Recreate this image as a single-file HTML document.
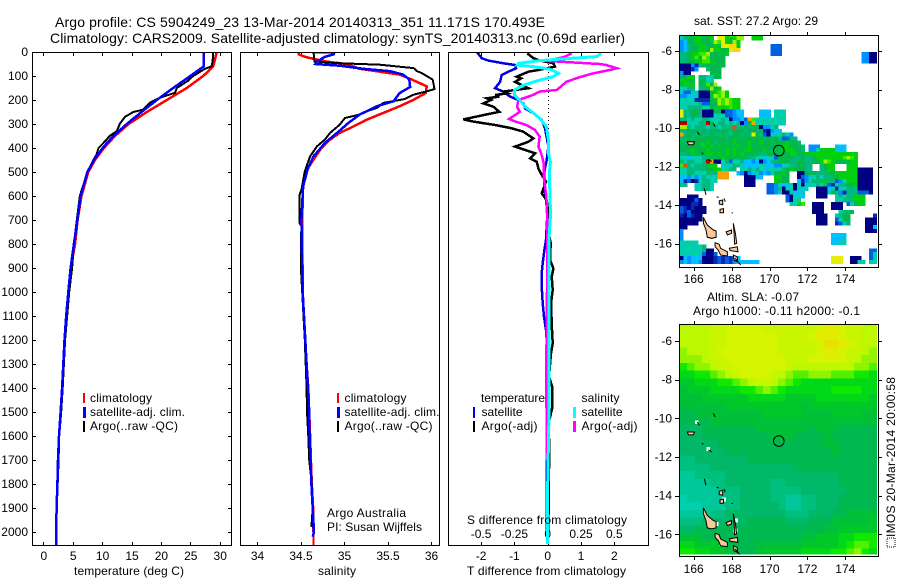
<!DOCTYPE html>
<html>
<head>
<meta charset="utf-8">
<title>Argo profile</title>
<style>
html,body{margin:0;padding:0;background:#fff;}
svg{display:block;font-family:"Liberation Sans",sans-serif;font-size:12px;fill:#000;}
text{fill:#000;stroke:none;}
.title{font-size:14px;}
.mark{fill:none;shape-rendering:crispEdges;stroke-linejoin:miter;}
.ax{shape-rendering:crispEdges;}
</style>
</head>
<body>
<svg id="fig" xmlns="http://www.w3.org/2000/svg" width="900" height="580" viewBox="0 0 900 580">
  <defs>
    <clipPath id="clip-t"><rect x="33" y="53" width="198" height="492"/></clipPath>
    <clipPath id="clip-s"><rect x="241" y="53" width="198" height="492"/></clipPath>
    <clipPath id="clip-d"><rect x="449" y="53" width="199" height="492"/></clipPath>
    <clipPath id="clip-m1"><rect x="679.5" y="35" width="198" height="232"/></clipPath>
    <clipPath id="clip-m2"><rect x="679.5" y="324.5" width="198" height="230"/></clipPath>
  </defs>

  <text class="title" x="55" y="27" textLength="490" lengthAdjust="spacing">Argo profile: CS 5904249_23 13-Mar-2014 20140313_351 11.171S 170.493E</text>
  <text class="title" x="50" y="43" textLength="575" lengthAdjust="spacing">Climatology: CARS2009. Satellite-adjusted climatology: synTS_20140313.nc (0.69d earlier)</text>

  <g id="heat1" clip-path="url(#clip-m1)" shape-rendering="crispEdges"></g>
  <g id="heat2" clip-path="url(#clip-m2)" shape-rendering="crispEdges"></g>
  <g id="land1" clip-path="url(#clip-m1)"></g>
  <g id="land2" clip-path="url(#clip-m2)"></g>
  <g id="axes"></g>
  <g id="series"></g>

  <text x="74" y="575" textLength="110">temperature (deg C)</text>
  <text x="318" y="575" textLength="38">salinity</text>
  <text x="467" y="575" textLength="159">T difference from climatology</text>
  <text x="467" y="524" textLength="160">S difference from climatology</text>

  <g>
    <rect x="83" y="393" width="2" height="10" fill="#ff0000"/>
    <rect x="83" y="407" width="3" height="11" fill="#0000ff"/>
    <rect x="83" y="421" width="2" height="11" fill="#000"/>
    <text x="90" y="402" textLength="62">climatology</text>
    <text x="90" y="416" textLength="95">satellite-adj. clim.</text>
    <text x="90" y="430" textLength="88">Argo(..raw -QC)</text>
  </g>
  <g>
    <rect x="337" y="393" width="2" height="10" fill="#ff0000"/>
    <rect x="337" y="407" width="3" height="11" fill="#0000ff"/>
    <rect x="337" y="421" width="2" height="11" fill="#000"/>
    <text x="344.5" y="402" textLength="62">climatology</text>
    <text x="344.5" y="416" textLength="95">satellite-adj. clim.</text>
    <text x="344.5" y="430" textLength="88">Argo(..raw -QC)</text>
    <text x="327" y="517" textLength="79">Argo Australia</text>
    <text x="327" y="531" textLength="95">PI: Susan Wijffels</text>
  </g>
  <g>
    <text x="481" y="402" textLength="64">temperature</text>
    <rect x="473" y="407" width="2" height="11" fill="#0000ff"/>
    <rect x="473" y="421" width="2" height="11" fill="#000"/>
    <text x="481.5" y="416" textLength="41">satellite</text>
    <text x="481.5" y="430" textLength="56">Argo(-adj)</text>
    <text x="581.5" y="402" textLength="38">salinity</text>
    <rect x="573" y="407" width="3" height="11" fill="#00ffff"/>
    <rect x="573" y="421" width="3" height="11" fill="#ff00ff"/>
    <text x="581.5" y="416" textLength="41">satellite</text>
    <text x="581.5" y="430" textLength="56">Argo(-adj)</text>
  </g>

  <text x="694" y="25" textLength="124">sat. SST: 27.2 Argo: 29</text>
  <text x="707" y="301" textLength="92">Altim. SLA: -0.07</text>
  <text x="693" y="315" textLength="167">Argo h1000: -0.11 h2000: -0.1</text>

  <rect x="887" y="538" width="8" height="9" fill="none" stroke="#000" stroke-width="1" stroke-dasharray="1 1" shape-rendering="crispEdges"/>
  <text transform="translate(895,537) rotate(-90)" x="0" y="0" textLength="160">IMOS 20-Mar-2014 20:00:58</text>
</svg>

<script>
// ---- chart data ----
const depthTicks = [0,100,200,300,400,500,600,700,800,900,1000,1100,1200,1300,1400,1500,1600,1700,1800,1900,2000];
const tempTicks = [0,5,10,15,20,25,30];
const salTicks = [34,34.5,35,35.5,36];
const salTickLabels = ['34','34.5','35','35.5','36'];
const dTempTicks = [-2,-1,0,1,2];
const dSalTicks = [-0.5,-0.25,0,0.25,0.5];
const dSalTickLabels = ['-0.5','-0.25','0','0.25','0.5'];
const lonTicks = [166,168,170,172,174];
const latTicks = [-6,-8,-10,-12,-14,-16];

const climDepth = [0,60,100,150,200,250,300,350,400,450,500,600,700,800,900,1000,1100,1200,1300,1400,1500,1600,1700,1800,1900,2000,2054];
const tempClim = [29.5,28.9,27.2,24.4,21,17.6,14.5,12.2,10.3,8.8,7.66,6.5,5.84,5.4,4.65,4.25,3.9,3.6,3.4,3.2,2.95,2.67,2.5,2.4,2.27,2.2,2.2];
const tempSat = [27.3,27.3,25,22.1,19.3,16.7,14.2,11.9,10.1,8.6,7.5,6.35,5.8,5.2,4.65,4.25,3.9,3.6,3.4,3.2,2.95,2.67,2.5,2.4,2.27,2.2,2.2];

const tempArgoDepth = [0,40,60,70,100,120,150,170,190,210,240,250,270,300,330,350,380,400,430,450,500,600,700,800,900,1000,1200,1400,1500,1600,1700,1900,2000];
const tempArgo = [28.9,28.8,28.6,27.5,25.5,24.6,22.7,22.4,19.9,18.2,17,15.3,13.9,13,12.5,11.3,10.2,9.4,9,8.5,7.5,6.2,5.7,5.2,4.9,4.4,3.7,3.3,3.05,2.7,2.6,2.3,2.2];

const salClimDepth = [0,10,20,30,40,50,70,94,115,143,171,199,226,254,282,310,337,365,400,449,504,560,700,1000,1100,1200,1300,1400,1500,1600,1700,1800,1900,2000,2054];
const salClim = [34.475,34.48,34.55,34.67,34.8,35.03,35.18,35.64,35.78,35.95,35.94,35.8,35.64,35.45,35.26,35.11,34.95,34.84,34.74,34.65,34.55,34.53,34.52,34.525,34.54,34.555,34.57,34.59,34.6,34.61,34.62,34.63,34.645,34.65,34.65];

const salSatDepth = [0,2,10,20,40,50,57,70,80,94,115,146,171,205,226,261,296,337,379,435,490,560,700,1000,1100,1200,1300,1400,1500,1600,1700,1800,1900,2000,2020];
const salSat = [34.65,34.89,34.88,34.78,34.69,34.67,34.95,35.22,35.53,35.68,35.75,35.76,35.64,35.57,35.38,35.18,35.05,34.92,34.78,34.65,34.58,34.53,34.51,34.525,34.54,34.555,34.57,34.585,34.6,34.605,34.615,34.625,34.64,34.655,34.64];

const salArgoDepth = [0,39,46,53,67,80,87,115,154,160,178,196,212,233,247,261,275,303,337,365,393,435,497,574,594,712,726,800,900,1000,1200,1400,1500,1600,1700,1800,1900,1980];
const salArgo = [34.65,34.66,34.88,35.41,35.8,35.84,35.89,36.02,36.04,35.99,35.8,35.7,35.45,35.38,35.26,35.18,35.01,34.95,34.84,34.78,34.69,34.61,34.55,34.51,34.49,34.49,34.51,34.505,34.505,34.52,34.55,34.57,34.575,34.59,34.6,34.63,34.64,34.625];

const dTempSatDepth = [0,26,36,47,54,68,82,96,124,151,165,186,200,214,235,256,283,318,394,450,505,561,617,672,783,825,880,922,978,1047,1103,1158,1200,1500,1800,2000];
const dTempSat = [-2.13,-1.98,-1.78,-1.33,-0.98,-0.95,-1.18,-1.38,-1.43,-1.58,-1.33,-1.13,-0.88,-0.73,-0.68,-0.43,-0.18,-0.08,0.02,-0.03,-0.11,-0.11,-0.05,-0.01,-0.05,-0.1,-0.15,-0.18,-0.18,-0.15,-0.11,-0.05,-0.03,-0.03,-0.03,-0.02];

const dTempArgoDepth = [6,26,36,47,61,75,82,103,110,124,138,151,165,172,179,186,193,200,214,228,249,263,281,290,304,318,332,360,374,394,406,422,443,457,485,512,540,589,617,672,769,797,866,902,936,992,1047,1158,1214,1256,1353,1388,1400,1480,1550,1650,1800,2000];
const dTempArgo = [-0.61,-0.43,-0.23,0.17,0.22,-0.28,-0.58,-0.93,-0.8,-0.98,-0.78,-0.58,-1.33,-1.2,-1.58,-1.45,-1.83,-1.7,-1.93,-1.63,-1.45,-1.93,-2.53,-2.23,-1.58,-1.08,-0.73,-0.43,-0.58,-0.98,-0.73,-0.38,-0.53,-0.33,-0.28,-0.18,-0.05,-0.18,-0.03,0.02,0.05,0.09,0.07,0.17,0.12,0.15,0.1,0.13,0.15,0.1,0.04,0.12,0.14,0.14,0.02,0.05,0.03,0.02];

const dSalSatDepth = [6,19,26,36,47,54,61,72,89,103,117,138,158,179,200,228,249,276,311,367,422,457,505,617,672,789,1500,1800,2050];
const dSalSat = [0.4,0.37,0.19,-0.06,-0.22,-0.23,-0.11,0.02,0.08,0.04,-0.06,-0.18,-0.25,-0.25,-0.21,-0.17,-0.12,-0.06,-0.01,0.005,0.005,0.02,0.012,0.018,0.022,0.008,0.01,0,0];

const dSalArgoDepth = [6,19,31,36,50,54,68,78,89,105,124,158,165,179,200,228,249,279,290,304,325,353,394,429,464,519,603,672,1000,1400,1500,1700];
const dSalArgo = [0.18,0.13,0.05,-0.045,0.39,0.44,0.52,0.44,0.34,0.24,0.14,0.07,-0.06,-0.11,-0.22,-0.23,-0.21,-0.29,-0.24,-0.16,-0.095,-0.06,-0.07,-0.045,-0.03,-0.03,-0.01,-0.005,-0.005,-0.012,-0.008,-0.008];

const argoLon = 170.493;
const argoLat = -11.171;

// SST map cells: each character is a colour level, "." is no data, "(n)" is a run of n no-data cells
const sstPalette = ['#000080','#0a28b4','#0060e0','#0090ff','#00c0ff','#00cfae','#00b97c','#00b84c','#00d010','#30e800','#a0f000','#e4f000','#f8d800','#f8a000','#e05010','#b00000'];
const sstRows = [
"567788778.bb8a9a9(2)888",
"567788778.bb878aa(2)888",
"347788777a9b87a8",
"34677887787bbcc8(8)222",
"34677887a8877bcc(8)222",
"6678899a77778(11)222(21)3300",
"667897a97777(36)3300",
"667788998777(36)3300",
"000316777777",
"00013(2)6777",
"300(5)777",
"7788.665577",
"8877.7755",
"7888.7797a",
"5566.667a78",
"52255000789a8",
"334450007a9a8",
"5555111178a9a988",
"5555562277a9a988",
"5566665577888988",
"b6677600077022344(4)444.555",
"b6677600055522344(4)444.555",
"665655665556503342d955555555",
"ff55566f75665656037d55555555",
"aa656665665666e66767703356",
"667776767777767776776710344",
"d676676676676677676b7620455653",
"6776777777776777777777677762266",
"76767778767777877787787777778776",
"777777878787777877877777777887776.333(4)444",
"777877787777878778877787777888776.3358888444",
"66787778878787878777766777777887788888888888888",
"55455566777877777766554552777766766788888889a98",
"6566556fd00562556443403466777667766778a98777788",
"9e65666788.5556654444554433556677" + "66(2)6788(3)888",
"556666677885566." + "55656545555" + "678777" + "66(2)6788(3)8880000",
"5566555666ddd(2)4303453435778" + "7(2)007676" + "6677" + "8888880000",
"4435346555ddd(4)00044(3)8877(2)0235" + "565667788888" + "0000",
"4120156655(7)000(5)8777(2)413566" + "78" + "66" + "2" + "3" + "5" + "88" + "8" + "0000",
"66(2)55665(8)000(3)2235445050" + "5" + "55656" + "21" + "56677" + "8" + "0000",
"(4)55665(14)223605505" + "45(2)000" + "45" + "1" + "5" + "56" + "66" + "0000",
"(23)2235005445(3)0005763166" + "62220",
"(2)000(23)20554(3)000(2)565668" + "88",
"000020(22)2055(9)556668" + "88",
"000110(23)5589(2)000(2)000.25788",
"2101000(28)000(2)000",
"2120000(28)000(4)5667",
"102100(30)000(2)5677(6)1",
"000000(30)000(2)2577(4)000",
"00000(31)000(2)1256(4)000",
"00(47)004",
"3(48)000",
"3(39)4444",
"3(39)4445",
"55555(35)4455",
"5555556",
"5555556" + "00(41)22",
"5555552" + "002(40)25",
"043444000" + "1212134(24)bbb(2)000(2)25",
"343443000" + "12121344444" + "4(19)bbb(2)0055.55"
];

// Altimetry map cells: same idea with coarser cells
const slaPalette = ['#00d0b0','#00c89a','#00c080','#00b868','#00b850','#00c038','#00c828','#00d818','#10e800','#50f000','#90f400','#bcf800','#c8f600','#d4f400','#e0ec00','#e8e000'];
const slaRows = [
"bbbbccdddddcccccccdeedccbb",
"bbbbccdddddddccccdeeedccbb",
"bbbbccdddddddcccccdffedcbb",
"abbbcddddddddcccccdeedccba",
"aaabccddddddddcccdddddcbaa",
"89aabccdddddddcbbbbbbbbaa9",
"77889abcddddcba99aaa999887",
"66777889abccba987777777777",
"56667777889a98777777888877",
"55566666677777666677777776",
"55555566666666665666666666",
"44555555555666665555666655",
"44445555555555555555555555",
"33344444445555555455544444",
"33344444444455544445444444",
"33333444444444444445544444",
"33333344444444444444544444",
"22333333344444444444444444",
"22223333333333344444444444",
"11222233333333333333344444",
"11112233333322333333344444",
"11111222333322223333334444",
"01111122333322112233344444",
"00011122333332112233344444",
"11112233333333222333445555",
"22233333344444333444555556",
"33444444444444444445566666",
"55544444444444445566677888",
"77666544445555556666678998",
"88776654445666667777889a87"
];

// Coast outlines in degrees
const islandPolys = [
[[166.51,-14.63],[166.72,-15.03],[167.04,-15.29],[167.18,-15.34],[167.18,-15.67],[166.95,-15.72],[166.72,-15.67],[166.65,-15.29],[166.51,-14.94]],
[[167.13,-15.95],[167.34,-16.02],[167.42,-16.24],[167.78,-16.42],[167.78,-16.64],[167.42,-16.59],[167.3,-16.33],[167.13,-16.16]],
[[167.71,-15.39],[168,-15.29],[168,-15.46],[167.78,-15.55]],
[[168.09,-14.94],[168.2,-15.46],[168.27,-15.98],[168.16,-16.02],[168.13,-15.46]],
[[167.88,-16.24],[168.3,-16.16],[168.34,-16.42],[167.92,-16.36]],
[[168.09,-16.59],[168.3,-16.68],[168.3,-16.93],[168.13,-16.85]],
[[167.35,-13.77],[167.53,-13.73],[167.53,-13.98],[167.35,-13.94]],
[[167.39,-14.22],[167.57,-14.18],[167.57,-14.39],[167.39,-14.39]],
[[165.67,-10.71],[166.04,-10.71],[165.98,-10.86],[165.72,-10.86]]
];
const reefLines = [
[[166.19,-10.19],[166.3,-10.36]],
[[167.04,-9.75],[167.13,-9.93]],
[[166.42,-11.28],[166.51,-11.35]],
[[166.77,-11.62],[166.95,-11.74]],
[[166.56,-13.13],[166.65,-13.47]],
[[167.21,-13.56],[167.32,-13.61]],
[[167.6,-13.65],[167.67,-13.82]],
[[168,-14.39],[168.07,-14.41]],
[[168.18,-16.76],[168.48,-17.1]]
];
const slaGaps = [[166.16,-10.2],[166.77,-11.59],[167.44,-13.82],[167.6,-14.2],[167.21,-15.46],[168.23,-15.29],[168.2,-15.81],[167.46,-16.5]];

// ---- axis functions ----
function yDepth(d){ return 52 + d * 0.24; }
function xTemp(v){ return 43.3 + v * 5.88; }
function xSal(v){ return 257 + (v - 34) * 87; }
function xDT(v){ return 547.7 + v * 33.3; }
function xDS(v){ return 547.7 + v * 133.2; }
function lonX(v){ return 693.7 + (v - 166) * 18.95; }
function latY1(v){ return 51 + (-6 - v) * 19.27; }
function latY2(v){ return 341 + (-6 - v) * 19.33; }

const NS = 'http://www.w3.org/2000/svg';
function make(parent, tag, attrs, txt){
  const el = document.createElementNS(NS, tag);
  for (const k in attrs) el.setAttribute(k, attrs[k]);
  if (txt !== undefined) el.textContent = txt;
  parent.appendChild(el);
  return el;
}
const axes = document.getElementById('axes');
const seriesG = document.getElementById('series');
const tickColor = '#000';

function hline(x1,x2,y){
  const el = make(axes,'line',{x1:x1,x2:x2,y1:Math.round(y)+0.5,y2:Math.round(y)+0.5,stroke:tickColor,'stroke-width':1,class:'ax'});
  
  
}
function vline(x,y1,y2){
  const el = make(axes,'line',{x1:Math.round(x)+0.5,x2:Math.round(x)+0.5,y1:y1,y2:y2,stroke:tickColor,'stroke-width':1,class:'ax'});
  
  
}
function label(x,y,str,anchor,name){
  const el = make(axes,'text',{x:x,y:y,'text-anchor':anchor},str);
  
  
}
function frame(x,y,w,h,name){
  const el = make(axes,'rect',{x:x+0.5,y:y+0.5,width:w,height:h,fill:'none',stroke:'#000','stroke-width':1,class:'ax'});
  
  
}

// Profile panels
const panelTop = 52, panelBottom = 545;
frame(32,panelTop,199,panelBottom-panelTop,'temperature-panel-frame');
frame(240,panelTop,199,panelBottom-panelTop,'salinity-panel-frame');
frame(448,panelTop,200,panelBottom-panelTop,'difference-panel-frame');

depthTicks.forEach(function(d){
  const y = yDepth(d);
  hline(33,36,y);
  hline(228,231,y);
  label(28,y+4,String(d),'end','depth-tick-label');
});
tempTicks.forEach(function(v){
  const x = xTemp(v);
  vline(x,panelTop+1,panelTop+4);
  vline(x,panelBottom-3,panelBottom);
  label(x+0.5,560,String(v),'middle','temperature-tick-label');
});
salTicks.forEach(function(v,i){
  const x = xSal(v);
  vline(x,panelTop+1,panelTop+4);
  vline(x,panelBottom-3,panelBottom);
  label(x+0.5,560,salTickLabels[i],'middle','salinity-tick-label');
});
dTempTicks.forEach(function(v){
  const x = xDT(v);
  vline(x,panelTop+1,panelTop+4);
  vline(x,panelBottom-3,panelBottom);
  label(x,560,String(v),'middle','t-difference-tick-label');
});
dSalTicks.forEach(function(v,i){
  label(xDS(v),538,dSalTickLabels[i],'middle','s-difference-tick-label');
});

// Zero line in the difference panel
const zeroLine = make(seriesG,'line',{x1:Math.round(xDT(0))+0.5,x2:Math.round(xDT(0))+0.5,y1:yDepth(0),y2:yDepth(400),stroke:'#000','stroke-width':1,'stroke-dasharray':'1 3',class:'ax'});



function drawSeries(depths, values, xFn, color, clip, name, width){
  const pts = depths.map(function(d,i){ return xFn(values[i]).toFixed(1) + ',' + yDepth(d).toFixed(1); }).join(' ');
  const el = make(seriesG,'polyline',{points:pts,stroke:color,'stroke-width':width,class:'mark','clip-path':'url(#'+clip+')'});
  
  
}
drawSeries(climDepth,tempClim,xTemp,'#ff0000','clip-t','temperature-climatology-line',2.5);
drawSeries(tempArgoDepth,tempArgo,xTemp,'#000000','clip-t','temperature-argo-line',2);
drawSeries(climDepth,tempSat,xTemp,'#0000ff','clip-t','temperature-satellite-line',2.5);

drawSeries(salClimDepth,salClim,xSal,'#ff0000','clip-s','salinity-climatology-line',2.5);
drawSeries(salArgoDepth,salArgo,xSal,'#000000','clip-s','salinity-argo-line',2);
drawSeries(salSatDepth,salSat,xSal,'#0000ff','clip-s','salinity-satellite-line',2.5);

drawSeries(dTempSatDepth,dTempSat,xDT,'#0000e0','clip-d','t-difference-satellite-line',2.5);
drawSeries(dTempArgoDepth,dTempArgo,xDT,'#000000','clip-d','t-difference-argo-line',2.5);
drawSeries(dSalArgoDepth,dSalArgo,xDS,'#ff00ff','clip-d','s-difference-argo-line',2.5);
drawSeries(dSalSatDepth,dSalSat,xDS,'#00ffff','clip-d','s-difference-satellite-line',3);

// Heatmaps
function expand(row){
  return row.replace(/\((\d+)\)/g,function(m,n){ return '.'.repeat(+n); });
}
const heat1 = document.getElementById('heat1');
const cellLon = 0.2, cellLat = 0.2, lon0 = 165.25, lat0 = -5.04;
sstRows.forEach(function(raw,r){
  const row = expand(raw);
  for (let c = 0; c < row.length && c < 52; c++){
    if (row[c] === '.') continue;
    const level = parseInt(row[c],16);
    const lon = lon0 + c * cellLon, lat = lat0 - r * cellLat;
    const rect = make(heat1,'rect',{x:lonX(lon).toFixed(2),y:latY1(lat).toFixed(2),width:(cellLon*18.95+0.3).toFixed(2),height:(cellLat*19.27+0.3).toFixed(2),fill:sstPalette[level]});
    
    
  }
});
const heat2 = document.getElementById('heat2');
const slaLonStep = 0.4, slaLatStep = 0.4, slaLat0 = -5.136;
slaRows.forEach(function(row,r){
  for (let c = 0; c < row.length; c++){
    const level = parseInt(row[c],16);
    const lon = lon0 + c * slaLonStep, lat = slaLat0 - r * slaLatStep;
    const rect = make(heat2,'rect',{x:lonX(lon).toFixed(2),y:latY2(lat).toFixed(2),width:(slaLonStep*18.95+0.3).toFixed(2),height:(slaLatStep*19.33+0.3).toFixed(2),fill:slaPalette[level]});
    
    
  }
});
slaGaps.forEach(function(p){
  const rect = make(heat2,'rect',{x:(lonX(p[0])-1.9).toFixed(1),y:(latY2(p[1])-1.9).toFixed(1),width:3.8,height:3.8,fill:'#fff'});
  
  
});

// Coasts and Argo position
function drawCoast(groupId, latFn, mapName){
  const g = document.getElementById(groupId);
  islandPolys.forEach(function(poly){
    const pts = poly.map(function(p){ return lonX(p[0]).toFixed(1)+','+latFn(p[1]).toFixed(1); }).join(' ');
    const el = make(g,'polygon',{points:pts,fill:'#fcc896',stroke:'#000','stroke-width':1});
    
    
  });
  reefLines.forEach(function(line){
    const pts = line.map(function(p){ return lonX(p[0]).toFixed(1)+','+latFn(p[1]).toFixed(1); }).join(' ');
    const el = make(g,'polyline',{points:pts,fill:'none',stroke:'#000','stroke-width':1});
    
    
  });
  const c = make(g,'circle',{cx:lonX(argoLon).toFixed(1),cy:latFn(argoLat).toFixed(1),r:5.3,fill:'none',stroke:'#000','stroke-width':1});
  
  
}
drawCoast('land1',latY1,'sst');
drawCoast('land2',latY2,'sla');

// Map frames and ticks
function mapAxes(top,bottom,latFn,labelY,name){
  frame(679,top,199,bottom-top,name+'-map-frame');
  lonTicks.forEach(function(v){
    const x = lonX(v);
    vline(x,top-3,top);
    vline(x,bottom+1,bottom+4);
    label(x,labelY,String(v),'middle',name+'-longitude-tick-label');
  });
  latTicks.forEach(function(v){
    const y = latFn(v);
    hline(675,679,y);
    hline(879,882,y);
    label(672,y+4,String(v),'end',name+'-latitude-tick-label');
  });
}
mapAxes(35,267,latY1,283,'sst');
mapAxes(324,556,latY2,573,'sla');
</script>
</body>
</html>
